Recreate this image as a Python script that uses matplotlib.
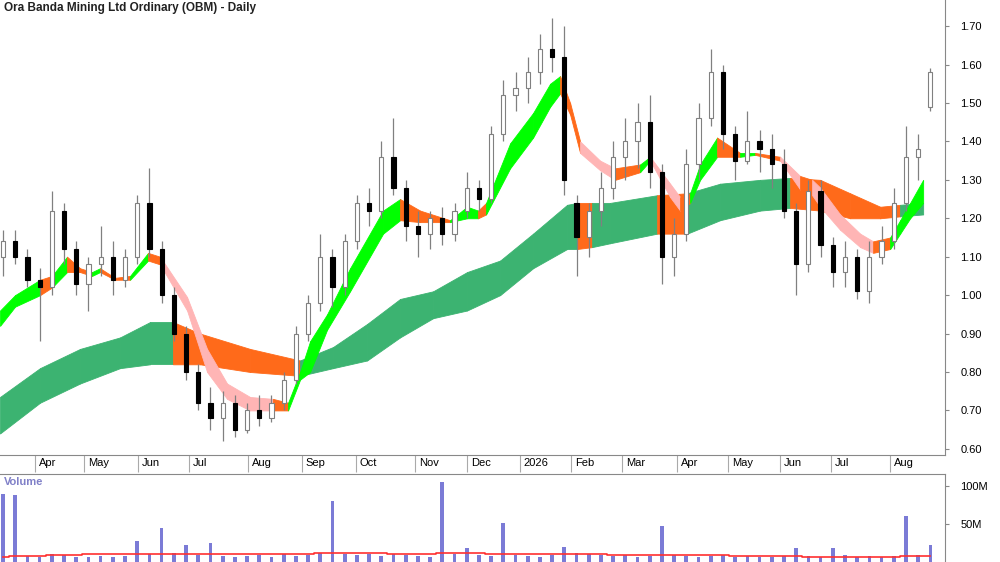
import matplotlib
matplotlib.use("Agg")
import matplotlib.pyplot as plt
import numpy as np

plt.rcParams['font.family'] = ['Liberation Sans', 'DejaVu Sans']

# weekly OHLC, weeks from start
opens = [1.10,1.14,1.10,1.04,1.02,1.22,1.12,1.03,1.08,1.10,1.04,1.10,1.24,1.12,1.00,0.90,0.80,0.72,0.68,0.72,
         0.65,0.70,0.68,0.72,0.78,0.90,0.98,1.10,1.02,1.14,1.24,1.22,1.36,1.28,1.18,1.16,1.20,1.16,1.22,1.28,
         1.25,1.42,1.52,1.54,1.58,1.64,1.62,1.24,1.15,1.22,1.28,1.36,1.40,1.45,1.32,1.10,1.16,1.34,1.46,1.58,
         1.42,1.35,1.40,1.38,1.34,1.22,1.08,1.27,1.13,1.06,1.10,1.01,1.10,1.14,1.24,1.36,1.49]
highs = [1.17,1.17,1.12,1.07,1.27,1.24,1.14,1.10,1.18,1.14,1.12,1.26,1.33,1.14,1.02,0.92,0.82,0.76,0.75,0.74,
         0.72,0.74,0.74,0.80,0.92,1.00,1.16,1.12,1.16,1.26,1.28,1.40,1.46,1.30,1.22,1.22,1.23,1.24,1.32,1.30,
         1.44,1.56,1.58,1.62,1.68,1.72,1.70,1.26,1.24,1.32,1.40,1.46,1.50,1.52,1.34,1.20,1.38,1.50,1.64,1.60,
         1.44,1.48,1.43,1.42,1.38,1.24,1.30,1.30,1.15,1.14,1.12,1.14,1.18,1.28,1.44,1.42,1.59]
lows = [1.05,1.08,1.02,0.88,1.00,1.08,1.00,0.96,1.05,1.00,1.02,1.08,1.10,0.98,0.88,0.78,0.70,0.65,0.62,0.63,
        0.64,0.66,0.67,0.70,0.77,0.88,0.96,0.97,1.00,1.12,1.18,1.20,1.26,1.14,1.10,1.12,1.13,1.14,1.20,1.22,
        1.24,1.40,1.48,1.50,1.55,1.58,1.26,1.05,1.10,1.18,1.25,1.30,1.33,1.28,1.03,1.05,1.14,1.30,1.44,1.38,
        1.30,1.34,1.32,1.28,1.20,1.00,1.06,1.10,1.02,1.02,0.99,0.98,1.08,1.12,1.22,1.30,1.48]
closes = [1.14,1.10,1.04,1.02,1.22,1.12,1.03,1.08,1.10,1.04,1.10,1.24,1.12,1.00,0.90,0.80,0.72,0.68,0.72,0.65,
          0.70,0.68,0.72,0.78,0.90,0.98,1.10,1.02,1.14,1.24,1.22,1.36,1.28,1.18,1.16,1.20,1.16,1.22,1.28,1.25,
          1.42,1.52,1.54,1.58,1.64,1.62,1.30,1.15,1.22,1.28,1.36,1.40,1.45,1.32,1.10,1.16,1.34,1.46,1.58,1.42,
          1.35,1.40,1.38,1.34,1.22,1.08,1.27,1.13,1.06,1.10,1.01,1.10,1.14,1.24,1.36,1.38,1.58]
volume = [90,88,8,7,10,9,7,6,8,7,8,28,10,45,12,22,9,25,8,7,
          8,9,7,10,8,9,12,80,10,9,11,8,10,9,8,7,105,10,18,9,
          8,52,9,8,7,9,20,12,10,9,8,9,7,8,47,9,8,7,8,9,
          7,8,6,7,8,18,8,7,18,9,7,8,7,8,60,9,22]
vol_ma = [7,8,8,8,9,9,9,10,10,10,10,10,11,11,10,10,10,10,11,11,
          11,11,11,11,11,11,12,12,12,12,12,12,11,11,11,11,12,12,12,12,
          11,11,11,10,10,10,10,10,10,10,9,9,9,9,9,9,9,9,9,9,
          8,8,8,8,8,8,7,7,7,7,7,7,7,7,8,8,8]

# guppy-style ribbons: sample positions (weeks), upper/lower edges, colour of each interval
long_x = [-0.25,3.03,6.31,9.59,12.05,13.93,16.15,20.25,24.34,27.05,29.84,32.54,35.25,38.03,40.74,43.44,
          46.23,47.05,48.28,49.75,53.61,56.07,58.77,62.05,64.51,66.97,69.43,71.89,73.52,75.41]
long_hi = [0.735,0.81,0.86,0.89,0.93,0.93,0.90,0.86,0.83,0.865,0.925,0.99,1.01,1.06,1.09,1.16,
           1.235,1.24,1.24,1.24,1.26,1.265,1.29,1.30,1.305,1.30,1.265,1.23,1.235,1.24]
long_lo = [0.64,0.72,0.77,0.81,0.82,0.82,0.82,0.80,0.79,0.81,0.83,0.89,0.94,0.96,1.00,1.07,
           1.12,1.12,1.125,1.135,1.16,1.16,1.195,1.22,1.227,1.22,1.20,1.20,1.205,1.21]
long_col = "gggggooogggggggggoggoggg" + "oooogg"

short_px = [0,15,40,52,67,80,92,100,115,130,148,160,187,207,227,250,273,288,300,310,327,350,383,400,420,
            450,467,478,486,510,533,550,560,570,580,600,615,640,650,670,680,690,700,717,740,755,780,800,
            812,820,840,860,873,890,900,910,923]
short_hi = [0.96,1.00,1.04,1.05,1.10,1.07,1.06,1.07,1.045,1.05,1.11,1.10,0.995,0.86,0.77,0.735,0.73,0.72,
            0.80,0.88,0.95,1.07,1.22,1.25,1.22,1.195,1.23,1.22,1.24,1.395,1.474,1.55,1.57,1.50,1.40,1.35,
            1.33,1.34,1.36,1.29,1.255,1.265,1.34,1.41,1.37,1.37,1.36,1.31,1.30,1.28,1.21,1.16,1.14,1.15,
            1.195,1.24,1.30]
short_lo = [0.92,0.97,1.00,1.02,1.06,1.06,1.05,1.06,1.04,1.04,1.09,1.08,0.96,0.80,0.73,0.70,0.70,0.70,
            0.78,0.80,0.91,1.01,1.16,1.195,1.19,1.19,1.20,1.20,1.21,1.33,1.41,1.49,1.525,1.47,1.37,1.325,
            1.30,1.32,1.35,1.255,1.22,1.24,1.30,1.36,1.36,1.365,1.35,1.275,1.26,1.23,1.17,1.125,1.11,1.12,
            1.16,1.20,1.24]
short_col = ("gg" + "o" + "g" + "oo" + "g" + "oo" + "g" + "o" + "ppppp" + "o" + "gggggg" + "oo" + "gg"
             + "o" + "gggg" + "oo" + "pp" + "o" + "g" + "pp" + "o" + "gg" + "o" + "g" + "o" + "p" + "o"
             + "pppp" + "o" + "gggg")
short_x = [(p - 3) / 12.2 for p in short_px]

month_pos = [2.62, 6.64, 11.07, 15.25, 20.08, 24.51, 28.93, 33.77, 38.03, 42.38, 46.56, 50.74,
             55.25, 59.43, 63.69, 67.87, 72.70]
month_lbl = ['Apr', 'May', 'Jun', 'Jul', 'Aug', 'Sep', 'Oct', 'Nov', 'Dec', '2026', 'Feb', 'Mar',
             'Apr', 'May', 'Jun', 'Jul', 'Aug']

colors = {'g': '#00ff00', 'o': '#ff6a1a', 'p': '#ffb5b5', 'd': '#3cb371'}

fig = plt.figure(figsize=(10, 5.62), dpi=100)
ax = fig.add_axes([0, 107 / 562, 0.945, 455 / 562])
axv = fig.add_axes([0, 0, 0.945, 88 / 562])

# long ribbon
for i in range(len(long_x) - 1):
    c = colors['d'] if long_col[i] == 'g' else colors['o']
    ax.fill_between(long_x[i:i + 2], long_lo[i:i + 2], long_hi[i:i + 2], color=c, lw=0.6, edgecolor=c)
# short ribbon
for i in range(len(short_x) - 1):
    c = colors[short_col[i]]
    ax.fill_between(short_x[i:i + 2], short_lo[i:i + 2], short_hi[i:i + 2], color=c, lw=0.6,
                    edgecolor=c, zorder=2)

# candles
x = np.arange(len(closes))
o = np.array(opens); c = np.array(closes)
up = c >= o
ax.vlines(x, lows, highs, color='#808080', lw=0.9, zorder=3)
ax.bar(x[up], (c - o)[up], bottom=o[up], width=0.35, color='white', edgecolor='#808080', lw=0.8, zorder=4)
ax.bar(x[~up], (o - c)[~up], bottom=c[~up], width=0.35, color='black', edgecolor='black', lw=0.8, zorder=4)

xlim = (-0.25, 77.2)
ax.set_xlim(*xlim)
ax.set_ylim(0.584, 1.768)
ax.yaxis.tick_right()
ax.set_yticks(np.arange(0.6, 1.71, 0.1))
ax.set_yticklabels(['%.2f' % v for v in np.arange(0.6, 1.71, 0.1)], fontsize=8)
ax.tick_params(axis='y', length=3, color='#888888', pad=8)
ax.set_xticks(month_pos)
ax.set_xticklabels([])
ax.tick_params(axis='x', length=12, color='#aaaaaa', direction='out')
for p, lab in zip(month_pos, month_lbl):
    ax.text(p + 0.3, -0.006, lab, transform=ax.get_xaxis_transform(), ha='left', va='top',
            fontsize=8, clip_on=False)
for s in ['top', 'left']:
    ax.spines[s].set_visible(False)
ax.spines['right'].set_color('#888888')
ax.spines['bottom'].set_color('#888888')
ax.text(0.004, 0.995, 'Ora Banda Mining Ltd Ordinary (OBM) - Daily', transform=ax.transAxes,
        ha='left', va='top', fontsize=8.5, fontweight='bold', color='#222222')

# volume
axv.bar(x, volume, width=0.3, color='#7b7bd6')
axv.plot(x, vol_ma, color='#ff3030', lw=1.2, drawstyle='steps-mid')
axv.set_xlim(*xlim)
axv.set_ylim(0, 116)
axv.yaxis.tick_right()
axv.set_yticks([50, 100])
axv.set_yticklabels(['50M', '100M'], fontsize=8)
axv.tick_params(axis='y', length=3, color='#888888', pad=8)
axv.set_xticks([])
for s in ['bottom', 'left']:
    axv.spines[s].set_visible(False)
axv.spines['right'].set_color('#888888')
axv.spines['top'].set_color('#888888')
axv.text(0.004, 0.97, 'Volume', transform=axv.transAxes, ha='left', va='top', fontsize=8,
         fontweight='bold', color='#8080c8')

fig.savefig('out.png', dpi=100)
